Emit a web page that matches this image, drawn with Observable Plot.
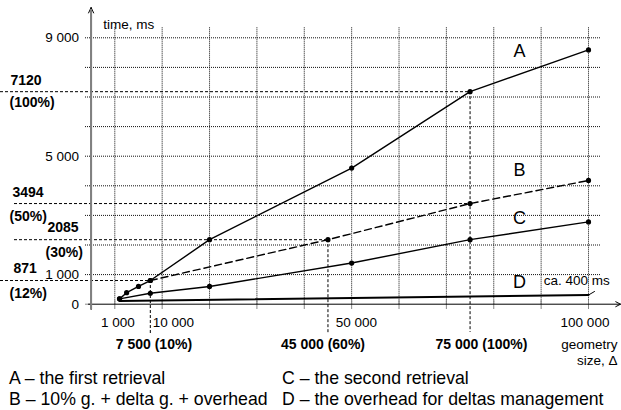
<!DOCTYPE html>
<html><head><meta charset="utf-8">
<script src="https://cdn.jsdelivr.net/npm/d3@7"></script>
<script src="https://cdn.jsdelivr.net/npm/@observablehq/plot@0.6"></script>
<style>
body{margin:0;background:#fff;font-family:"Liberation Sans",Arial,sans-serif;}
#legend{display:grid;grid-template-columns:273px auto;padding-left:9px;font-size:17.7px;line-height:20.5px;color:#000;white-space:nowrap}
</style></head><body>
<div id="chart"></div>
<div id="legend"></div>
<script>
// ---- data ----
const seriesNames = ["A", "B", "C", "D"];
const aX = [1000, 2500, 5000, 7500, 20000, 50000, 75000, 100000];
const aY = [180, 390, 600, 800, 2180, 4600, 7180, 8590];
const bX = [7500, 45000, 75000, 100000];
const bY = [800, 2180, 3400, 4180];
const cX = [1000, 7500, 20000, 50000, 75000, 100000];
const cY = [180, 370, 600, 1390, 2180, 2780];
const dX = [1000, 100000];
const dY = [110, 310];
const xTickValues = [1000, 10000, 50000, 100000];
const xTickLabels = ["1 000", "10 000", "50 000", "100 000"];
const yTickValues = [0, 1000, 5000, 9000];
const yTickLabels = ["0", "1 000", "5 000", "9 000"];
const gridX = [0, 10000, 20000, 30000, 40000, 50000, 60000, 70000, 80000, 90000, 100000];
const gridY = [1000, 2000, 3000, 4000, 5000, 6000, 7000, 8000, 9000];
// guide levels (time) and their labels
const guideY = [7180, 3400, 2180, 800];
const guideYText = ["7120", "3494", "2085", "871"];
const guideYPct = ["(100%)", "(50%)", "(30%)", "(12%)"];
const guideX = [75000, 45000, 7500];
const guideXText = ["75 000 (100%)", "45 000 (60%)", "7 500 (10%)"];
const legendItems = ["A – the first retrieval", "C – the second retrieval",
  "B – 10% g. + delta g. + overhead", "D – the overhead for deltas management"];

// ---- layout ----
const W = 621, H = 368, ML = 114.3, MR = 33, MT = 37.3, MB = H - 303.7;
const px2x = p => (p - ML) / (W - ML - MR) * 100000;
const py2y = p => (H - MB - p) / (H - MB - MT) * 9000;
const font = '"Liberation Sans", Arial, sans-serif';

const toRows = (xs, ys, s) => xs.map((x, i) => ({x, y: ys[i], s}));
const A = toRows(aX, aY, "A"), B = toRows(bX, bY, "B"), C = toRows(cX, cY, "C"), D = toRows(dX, dY, "D");

const hGuides = [
  {y: guideY[0], x1: px2x(0), x2: guideX[0]},
  {y: guideY[1], x1: px2x(14), x2: guideX[0]},
  {y: guideY[2], x1: px2x(14), x2: guideX[1]},
  {y: guideY[3], x1: px2x(0), x2: guideX[2]}
];
const vGuides = [
  {x: guideX[0], y1: guideY[0], y2: py2y(332)},
  {x: guideX[1], y1: guideY[2], y2: py2y(333)},
  {x: guideX[2], y1: guideY[3], y2: py2y(333)}
];
const guideLabelDx = [10, 12, 47, 13].map(v => v - ML);
const guidePctDx = [9, 9, 45, 9].map(v => v - ML);
const guideLabelDy = [-11, -11, -12.3, -11.6];
const guidePctDy = [10.5, 12.7, 13.2, 13];
const xTickDx = [-1.7, 11.2, 4.7, -3.5];
const guideXDx = [11.4, -5, 3.6];
const seriesLabelY = [py2y(50.7), py2y(170), py2y(217.8), py2y(282)];

const chart = Plot.plot({
  width: W, height: H, marginLeft: ML, marginRight: MR, marginTop: MT, marginBottom: MB,
  x: {domain: [0, 100000], axis: null},
  y: {domain: [0, 9000], axis: null},
  style: {fontFamily: font, fontSize: "13.5px", color: "#000", background: "#fff"},
  marks: [
    // dotted grid
    Plot.ruleY(gridY, {x1: px2x(85), x2: px2x(600), stroke: "#111", strokeDasharray: "1,1", strokeWidth: 1}),
    Plot.ruleX(gridX, {y1: 0, y2: py2y(27), stroke: "#111", strokeDasharray: "1,1", strokeWidth: 1}),
    // x ticks
    Plot.ruleX(gridX, {y1: py2y(309), y2: py2y(300), stroke: "#888"}),
    Plot.ruleY([0], {x1: px2x(85), x2: px2x(91), stroke: "#888"}),
    // guides
    Plot.ruleY(hGuides, {y: "y", x1: "x1", x2: "x2", stroke: "#000", strokeDasharray: "3,2"}),
    Plot.ruleX(vGuides, {x: "x", y1: "y1", y2: "y2", stroke: "#000", strokeDasharray: "3,2"}),
    // axes
    Plot.arrow([0], {x1: () => px2x(88), y1: 0, x2: () => px2x(620), y2: 0, stroke: "#000", strokeWidth: 1, headLength: 8, headAngle: 55}),
    Plot.arrow([0], {x1: () => px2x(90.6), y1: () => py2y(309), x2: () => px2x(90.6), y2: () => py2y(7), stroke: "#000", strokeWidth: 1, headLength: 9, headAngle: 50}),
    Plot.ruleX([px2x(90.6)], {y1: py2y(309), y2: py2y(9), stroke: "#808080", strokeWidth: 2}),
    // series
    Plot.line(D, {x: "x", y: "y", stroke: "#000", strokeWidth: 2}),
    Plot.line(C, {x: "x", y: "y", stroke: "#000", strokeWidth: 1.4}),
    Plot.line(B, {x: "x", y: "y", stroke: "#000", strokeWidth: 1.4, strokeDasharray: "7,4"}),
    Plot.line(A, {x: "x", y: "y", stroke: "#000", strokeWidth: 1.4}),
    Plot.dot([...A, ...B, ...C], {x: "x", y: "y", r: 2.6, fill: "#000"}),
    // leader for D note
    Plot.line([{x: dX[1], y: dY[1]}, {x: px2x(594), y: py2y(291)}], {x: "x", y: "y", stroke: "#000", strokeWidth: 1}),
    Plot.text(["ca. 400 ms"], {x: () => px2x(543.3), y: () => py2y(280), textAnchor: "start", fontSize: 13.5}),
    // series letters
    Plot.text(seriesNames, {x: () => px2x(519), y: (d, i) => seriesLabelY[i], fontSize: 18}),
    // y tick labels
    Plot.text(yTickValues, {y: d => d, text: (d, i) => yTickLabels[i], frameAnchor: "left", textAnchor: "end", dx: 78.5 - ML, fontSize: 13.5}),
    Plot.text(["time, ms"], {x: () => px2x(102.7), y: () => py2y(24), textAnchor: "start", fontSize: 13.5}),
    // x tick labels
    ...xTickValues.map((v, i) => Plot.text([v], {x: d => d, y: 0, text: () => xTickLabels[i], dy: 18.3, dx: xTickDx[i], fontSize: 13.5})),
    ...guideX.map((v, i) => Plot.text([v], {x: d => d, y: 0, text: () => guideXText[i], dy: 40.5, dx: guideXDx[i], fontSize: 14, fontWeight: "bold"})),
    Plot.text(["geometry"], {x: () => 100000, y: 0, dx: 29, dy: 40.5, textAnchor: "end", fontSize: 13.5}),
    Plot.text(["size, Δ"], {x: () => 100000, y: 0, dx: 29, dy: 56.5, textAnchor: "end", fontSize: 13.5}),
    // bold guide labels on y
    ...guideY.map((v, i) => Plot.text([v], {y: d => d, text: () => guideYText[i], frameAnchor: "left", textAnchor: "start", dx: guideLabelDx[i], dy: guideLabelDy[i], fontSize: 14, fontWeight: "bold"})),
    ...guideY.map((v, i) => Plot.text([v], {y: d => d, text: () => guideYPct[i], frameAnchor: "left", textAnchor: "start", dx: guidePctDx[i], dy: guidePctDy[i], fontSize: 14, fontWeight: "bold"}))
  ]
});
document.getElementById("chart").append(chart);
const leg = document.getElementById("legend");
legendItems.forEach(t => { const s = document.createElement("span"); s.textContent = t; leg.append(s); });
</script>
</body></html>
